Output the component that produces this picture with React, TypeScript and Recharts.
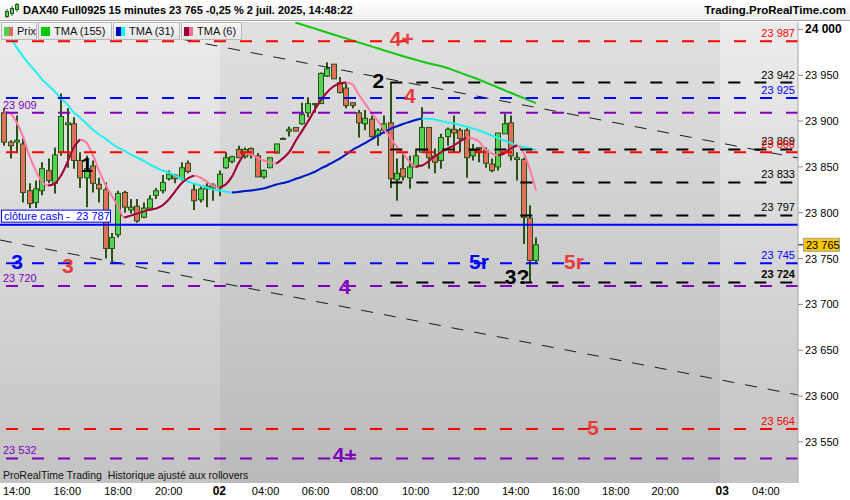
import React from 'react';
import { ComposedChart, Bar, Line, XAxis, YAxis, CartesianGrid, ReferenceLine, ReferenceDot } from 'recharts';

const FONT = '"Liberation Sans", Arial, sans-serif';
const W = 850;
const H = 500;

// 15 minute bars, from 13:30 (bar 0) to 14:45 on 2 juil. (bar 84)
const OPEN = [
  23909, 23877, 23877, 23875, 23824, 23811, 23824, 23846, 23832, 23866,
  23896, 23897, 23857, 23838, 23851, 23831, 23825, 23761, 23776, 23822,
  23803, 23807, 23795, 23805, 23819, 23824, 23837, 23841, 23837, 23854,
  23825, 23814, 23826, 23827, 23827, 23849, 23856, 23869, 23861, 23870,
  23862, 23839, 23849, 23865, 23880, 23889, 23893, 23897, 23909, 23918,
  23919, 23949, 23962, 23942, 23936, 23920, 23909, 23897, 23902, 23884,
  23890, 23898, 23836, 23848, 23838, 23850, 23866, 23893, 23862, 23857,
  23883, 23891, 23890, 23890, 23862, 23871, 23868, 23853, 23850, 23886,
  23898, 23858, 23858, 23794, 23748,
];
const HIGH = [
  23914, 23879, 23906, 23881, 23832, 23835, 23855, 23859, 23871, 23930,
  23914, 23904, 23866, 23862, 23857, 23838, 23833, 23778, 23824, 23824,
  23815, 23815, 23811, 23819, 23827, 23841, 23846, 23842, 23855, 23857,
  23832, 23830, 23832, 23832, 23846, 23866, 23862, 23873, 23871, 23871,
  23865, 23847, 23860, 23875, 23882, 23894, 23893, 23920, 23926, 23919,
  23953, 23964, 23962, 23948, 23942, 23920, 23912, 23912, 23906, 23892,
  23906, 23942, 23859, 23865, 23862, 23870, 23915, 23893, 23870, 23886,
  23893, 23906, 23892, 23892, 23875, 23871, 23871, 23859, 23887, 23908,
  23906, 23866, 23860, 23808, 23773,
];
const LOW = [
  23873, 23859, 23866, 23811, 23805, 23805, 23819, 23832, 23821, 23862,
  23849, 23848, 23827, 23806, 23822, 23811, 23750, 23746, 23773, 23800,
  23799, 23789, 23794, 23802, 23815, 23821, 23835, 23832, 23835, 23843,
  23803, 23811, 23806, 23813, 23818, 23848, 23854, 23860, 23859, 23859,
  23839, 23837, 23849, 23865, 23880, 23883, 23889, 23896, 23904, 23909,
  23919, 23948, 23946, 23930, 23914, 23914, 23882, 23890, 23882, 23873,
  23886, 23827, 23813, 23835, 23826, 23849, 23866, 23848, 23843, 23848,
  23873, 23865, 23866, 23838, 23857, 23855, 23849, 23844, 23846, 23886,
  23857, 23835, 23766, 23724, 23746,
];
const CLOSE = [
  23877, 23873, 23879, 23822, 23810, 23826, 23848, 23835, 23863, 23905,
  23898, 23857, 23838, 23848, 23832, 23826, 23761, 23773, 23821, 23806,
  23806, 23791, 23805, 23815, 23824, 23833, 23842, 23837, 23849, 23845,
  23813, 23826, 23829, 23830, 23842, 23860, 23861, 23860, 23869, 23863,
  23839, 23846, 23860, 23875, 23881, 23891, 23889, 23907, 23919, 23919,
  23952, 23957, 23946, 23931, 23917, 23917, 23898, 23903, 23883, 23890,
  23897, 23837, 23843, 23839, 23850, 23862, 23893, 23860, 23855, 23882,
  23891, 23887, 23881, 23860, 23868, 23866, 23854, 23846, 23887, 23897,
  23862, 23860, 23795, 23748, 23765,
];

const TMA155_START = 46;
const TMA155 = [
  24007.5, 24005.3, 24003.1, 24001.0, 23998.8, 23996.6, 23994.4, 23992.2, 23990.1, 23987.9,
  23985.7, 23983.6, 23981.4, 23979.3, 23977.1, 23975.0, 23972.8, 23970.7, 23968.7, 23966.8,
  23964.9, 23963.1, 23961.4, 23959.8, 23957.9, 23955.3, 23952.8, 23950.2, 23947.7, 23945.1,
  23942.3, 23939.4, 23936.6, 23933.7, 23930.8, 23928.0, 23925.2, 23922.3, 23919.5,
];
const TMA31 = [
  23998.9, 23991.3, 23980.3, 23970.5, 23961.8, 23954.1, 23945.4, 23938.8, 23932.3, 23924.6,
  23918.1, 23909.3, 23903.9, 23897.3, 23890.8, 23885.3, 23880.9, 23875.5, 23871.1, 23867.8,
  23863.5, 23860.2, 23856.9, 23852.6, 23849.3, 23846.0, 23843.8, 23840.5, 23837.3, 23834.0,
  23831.8, 23829.6, 23827.4, 23825.2, 23824.2, 23823.1, 23822.0, 23822.5, 23823.6, 23824.2,
  23825.2, 23826.3, 23828.5, 23830.7, 23832.3, 23834.0, 23836.7, 23838.9, 23841.6, 23844.4,
  23848.2, 23851.5, 23855.3, 23859.1, 23863.5, 23868.4, 23872.2, 23876.0, 23879.9, 23884.2,
  23888.0, 23891.3, 23894.1, 23896.8, 23899.0, 23901.2, 23902.8, 23902.5, 23901.7, 23900.1,
  23898.4, 23897.3, 23895.7, 23894.1, 23891.9, 23889.7, 23887.0, 23884.2, 23881.5, 23878.8,
  23876.0, 23873.3, 23871.7, 23870.0, 23868.4,
];
const TMA6 = [
  23910.4, 23908.3, 23898.4, 23883.1, 23862.4, 23846.0, 23834.0, 23829.6, 23831.8, 23840.5,
  23854.7, 23871.1, 23879.9, 23876.6, 23863.5, 23846.0, 23830.7, 23818.7, 23806.7, 23794.7,
  23796.8, 23799.0, 23801.2, 23803.4, 23804.5, 23807.8, 23814.3, 23823.1, 23831.8, 23837.3,
  23840.5, 23838.4, 23834.0, 23829.6, 23827.4, 23830.7, 23839.4, 23853.6, 23864.6, 23863.5,
  23860.2, 23856.9, 23854.7, 23853.6, 23859.1, 23865.7, 23877.7, 23888.6, 23899.5, 23911.5,
  23922.5, 23931.2, 23937.7, 23941.0, 23942.1, 23939.9, 23929.0, 23919.2, 23909.3, 23900.6,
  23890.8, 23882.0, 23872.2, 23864.6, 23855.8, 23850.4, 23851.5, 23855.8, 23861.3, 23865.7,
  23870.0, 23873.3, 23877.7, 23882.0, 23880.9, 23877.7, 23868.9, 23864.6, 23862.4, 23864.6,
  23870.0, 23873.3, 23865.7, 23848.2, 23824.2,
];

const LAST = 23765;
const CASH_CLOSE = 23787;

// axes
const X_DOMAIN = [-0.63, 125.37];
const Y_DOMAIN = [23505.2, 24008];
const Y_TICKS = [23550, 23600, 23650, 23700, 23750, 23800, 23850, 23900, 23950, 24000];
const X_TICKS = [2, 10, 18, 26, 34, 41.3, 49.2, 56.9, 65, 72.9, 80.8, 88.7, 96.6, 104.4, 113.4, 120.3];
const X_LABELS = ['14:00', '16:00', '18:00', '20:00', '02', '04:00', '06:00', '08:00', '10:00', '12:00', '14:00', '16:00', '18:00', '20:00', '03', '04:00'];
const DAY_BOUNDS = [34.1, 113.05];

const RED = '#ff0000';
const BLUE = '#0000ff';
const PURPLE = '#8000c0';
const BLACK = '#000000';
const NOTE_RED = '#e83c3c';

const LEVELS = [
  { price: 23987, color: RED, from: null, side: 'right' },
  { price: 23942, color: BLACK, from: 61, side: 'right' },
  { price: 23925, color: BLUE, from: null, side: 'right' },
  { price: 23909, color: PURPLE, from: null, side: 'left' },
  { price: 23869, color: BLACK, from: 61, side: 'right' },
  { price: 23866, color: RED, from: null, side: 'right' },
  { price: 23833, color: BLACK, from: 61, side: 'right' },
  { price: 23797, color: BLACK, from: 61, side: 'right' },
  { price: 23745, color: BLUE, from: null, side: 'right' },
  { price: 23724, color: BLACK, from: 61, side: 'right' },
  { price: 23720, color: PURPLE, from: null, side: 'left' },
  { price: 23564, color: RED, from: null, side: 'right' },
  { price: 23532, color: PURPLE, from: null, side: 'left' },
];

const TRENDS = [
  [{ x: 14, y: 24008 }, { x: 125.37, y: 23859.7 }],
  [{ x: -0.63, y: 23770.2 }, { x: 125.37, y: 23601.2 }],
];

const NOTES = [
  { text: '4+', x: 62.8, y: 23990.5, color: NOTE_RED },
  { text: '2', x: 59.1, y: 23944.7, color: BLACK },
  { text: '4', x: 64.1, y: 23928.3, color: NOTE_RED },
  { text: '1', x: 13.1, y: 23853.1, color: BLACK },
  { text: '3', x: 2.05, y: 23747.3, color: BLUE },
  { text: '3', x: 10.1, y: 23741.9, color: NOTE_RED },
  { text: '4', x: 53.8, y: 23719, color: PURPLE },
  { text: '5r', x: 75, y: 23746.3, color: BLUE },
  { text: '3?', x: 81, y: 23729.9, color: BLACK },
  { text: '5r', x: 90, y: 23747.3, color: NOTE_RED },
  { text: '5', x: 93, y: 23565.3, color: NOTE_RED },
  { text: '4+', x: 53.8, y: 23535.8, color: PURPLE },
];

const LEGEND = [
  { label: 'Prix', colors: ['#4fd24f', '#e06a5a'], width: 36 },
  { label: 'TMA (155)', colors: ['#00c800'], width: 74 },
  { label: 'TMA (31)', colors: ['#0000c8', '#00ffff'], width: 67 },
  { label: 'TMA (6)', colors: ['#990033', '#ff6f9a'], width: 61 },
];

const GREEN_BODY = '#52d452';
const RED_BODY = '#e2705c';
const WICK = '#2b5216';

// keep only the points of rising stretches, so they can be drawn in the second colour
const risingOnly = (vals: number[]) =>
  vals.map((v, k) => {
    const up = (k > 0 && v > vals[k - 1]) || (k < vals.length - 1 && vals[k + 1] > v);
    return up ? v : null;
  });

const t31Up = risingOnly(TMA31);
const t6Up = risingOnly(TMA6);

const rows = OPEN.map((o, i) => ({
  i,
  o,
  h: HIGH[i],
  l: LOW[i],
  c: CLOSE[i],
  range: [LOW[i], HIGH[i]],
  tma155: i >= TMA155_START ? TMA155[i - TMA155_START] : null,
  t31: TMA31[i],
  t31Up: t31Up[i],
  t6: TMA6[i],
  t6Up: t6Up[i],
}));

const fmt = (v: number) => `${Math.floor(v / 1000)} ${String(Math.round(v) % 1000).padStart(3, '0')}`;

const bandStart = (DAY_BOUNDS[0] - X_DOMAIN[0]) / (X_DOMAIN[1] - X_DOMAIN[0]);
const bandEnd = (DAY_BOUNDS[1] - X_DOMAIN[0]) / (X_DOMAIN[1] - X_DOMAIN[0]);

function Candle(props: any) {
  const { x, y, width, height, payload } = props;
  if (x == null || y == null || !payload) return null;
  const top = Math.min(y, y + height);
  const span = Math.abs(height);
  const { o, h, l, c } = payload;
  const k = h > l ? span / (h - l) : 0;
  const py = (v: number) => top + (h - v) * k;
  const cx = Math.round(x + width / 2);
  const bTop = py(Math.max(o, c));
  const bH = Math.max(1, py(Math.min(o, c)) - bTop);
  return (
    <g>
      <line x1={cx} x2={cx} y1={top} y2={top + span} stroke={WICK} strokeWidth={2} />
      <rect x={cx - 2.5} y={bTop} width={5} height={bH} fill={c >= o ? GREEN_BODY : RED_BODY} stroke={WICK} strokeWidth={1} />
    </g>
  );
}

const boxOf = (vb: any) => {
  const x = vb.x ?? Math.min(vb.x1, vb.x2);
  const y = vb.y ?? vb.y1;
  const width = vb.width ?? Math.abs(vb.x2 - vb.x1);
  return { x, y, width };
};

const levelLabel = (text: string, color: string, side: string, bold: boolean) => (props: any) => {
  const b = boxOf(props.viewBox || {});
  const right = side === 'right';
  return (
    <text
      x={right ? b.x + b.width - 3 : b.x + 3}
      y={b.y - 4}
      textAnchor={right ? 'end' : 'start'}
      fontSize={11}
      fontFamily={FONT}
      fontWeight={bold ? 'bold' : 'normal'}
      fill={color}
    >
      {text}
    </text>
  );
};

const CashLabel = (props: any) => {
  const b = boxOf(props.viewBox || {});
  return (
    <g>
      <rect x={b.x + 1.5} y={b.y - 14.5} width={109} height={12} fill="#fff" stroke={BLUE} strokeWidth={1} />
      <text x={b.x + 4} y={b.y - 4.5} fontSize={11} fontFamily={FONT} fill={BLUE} style={{ whiteSpace: 'pre' }}>
        {`clôture cash -  ${fmt(CASH_CLOSE)}`}
      </text>
    </g>
  );
};

const PriceTag = (props: any) => {
  const b = boxOf(props.viewBox || {});
  const x = b.x + b.width;
  return (
    <g>
      <line x1={x} x2={x + 5} y1={b.y} y2={b.y} stroke="#000" />
      <rect x={x + 5.5} y={b.y - 6.5} width={36} height={13} fill="#f8c800" stroke="#a0a0a0" />
      <text x={x + 8} y={b.y + 4} fontSize={11} fontFamily={FONT} fill="#000">
        {fmt(LAST)}
      </text>
    </g>
  );
};

const XTick = (props: any) => {
  const { x, y, payload } = props;
  const lab = X_LABELS[X_TICKS.indexOf(payload.value)] ?? '';
  const day = lab.length === 2;
  return (
    <text x={x} y={y} dy={4} textAnchor="middle" fontSize={day ? 12 : 11} fontWeight={day ? 'bold' : 'normal'} fontFamily={FONT} fill="#000">
      {lab}
    </text>
  );
};

const YTick = (props: any) => {
  const { x, y, payload } = props;
  const big = payload.value % 1000 === 0;
  return (
    <text x={x} y={y} dy={4} fontSize={big ? 12 : 11} fontWeight={big ? 'bold' : 'normal'} fontFamily={FONT} fill="#000">
      {fmt(payload.value)}
    </text>
  );
};

function TitleIcon() {
  return (
    <svg width={16} height={16} style={{ position: 'absolute', left: 4, top: 3 }}>
      <line x1={3} x2={3} y1={6} y2={15} stroke="#2b5216" />
      <rect x={1.5} y={8.5} width={3} height={5} fill="#52d452" stroke="#2b5216" />
      <line x1={8} x2={8} y1={3} y2={13} stroke="#2b5216" />
      <rect x={6.5} y={5.5} width={3} height={5} fill="#52d452" stroke="#2b5216" />
      <line x1={13} x2={13} y1={0} y2={9} stroke="#2b5216" />
      <rect x={11.5} y={1.5} width={3} height={5} fill="#52d452" stroke="#2b5216" />
    </svg>
  );
}

export default function App() {
  return (
    <div style={{ position: 'relative', width: W, height: H, background: '#fff', fontFamily: FONT, overflow: 'hidden' }}>
      <style>{'body{margin:0}'}</style>
      <ComposedChart width={W} height={H} data={rows} margin={{ top: 22, right: 0, bottom: 0, left: 0 }}>
        <defs>
          <linearGradient id="bgV" x1="0" y1="0" x2="0" y2="1">
            <stop offset="0" stopColor="#ececec" />
            <stop offset="1" stopColor="#c3c3c3" />
          </linearGradient>
          <linearGradient id="dayBand" x1="0" y1="0" x2="1" y2="0">
            <stop offset={bandStart} stopColor="#000" stopOpacity={0} />
            <stop offset={bandStart} stopColor="#000" stopOpacity={0.05} />
            <stop offset={bandEnd} stopColor="#000" stopOpacity={0.05} />
            <stop offset={bandEnd} stopColor="#000" stopOpacity={0} />
          </linearGradient>
        </defs>
        <CartesianGrid horizontal={false} vertical={false} fill="url(#bgV)" stroke="none" />
        <CartesianGrid horizontal={false} vertical={false} fill="url(#dayBand)" stroke="none" />
        <XAxis
          dataKey="i"
          type="number"
          domain={X_DOMAIN}
          allowDataOverflow
          ticks={X_TICKS}
          interval={0}
          height={17}
          tickLine={false}
          axisLine={false}
          tick={<XTick />}
        />
        <YAxis
          orientation="right"
          type="number"
          domain={Y_DOMAIN}
          allowDataOverflow
          ticks={Y_TICKS}
          interval={0}
          width={52}
          tickSize={5}
          tickLine={{ stroke: '#888' }}
          axisLine={{ stroke: '#a8a8a8' }}
          tick={<YTick />}
        />
        {TRENDS.map((seg, k) => (
          <ReferenceLine key={`tr${k}`} segment={seg} stroke="#1a1a1a" strokeWidth={1} strokeDasharray="12 11" ifOverflow="hidden" />
        ))}
        <Bar dataKey="range" barSize={5} shape={(p: any) => <Candle {...p} />} isAnimationActive={false} />
        <Line dataKey="tma155" type="monotone" stroke="#10c810" strokeWidth={2} dot={false} isAnimationActive={false} />
        <Line dataKey="t31" type="monotone" stroke="#20f0f0" strokeWidth={2} dot={false} isAnimationActive={false} />
        <Line dataKey="t31Up" type="monotone" stroke="#1010c0" strokeWidth={2} dot={false} isAnimationActive={false} />
        <Line dataKey="t6" type="monotone" stroke="#ff7aa2" strokeWidth={2} dot={false} isAnimationActive={false} />
        <Line dataKey="t6Up" type="monotone" stroke="#990033" strokeWidth={2} dot={false} isAnimationActive={false} />
        {LEVELS.map((lv) =>
          lv.from == null ? (
            <ReferenceLine
              key={`lv${lv.price}`}
              y={lv.price}
              stroke={lv.color}
              strokeWidth={2}
              strokeDasharray="12 14"
              label={levelLabel(fmt(lv.price), lv.color, lv.side, false)}
            />
          ) : (
            <ReferenceLine
              key={`lv${lv.price}`}
              segment={[{ x: lv.from, y: lv.price }, { x: X_DOMAIN[1], y: lv.price }]}
              stroke={lv.color}
              strokeWidth={2}
              strokeDasharray="12 14"
              label={levelLabel(fmt(lv.price), lv.color, lv.side, lv.price === 23724)}
            />
          )
        )}
        <ReferenceLine y={CASH_CLOSE} stroke={BLUE} strokeWidth={2} label={CashLabel} />
        <ReferenceLine y={LAST} stroke="none" label={PriceTag} />
        {NOTES.map((n, k) => (
          <ReferenceDot
            key={`n${k}`}
            x={n.x}
            y={n.y}
            r={0}
            shape={(p: any) => (
              <text x={p.cx} y={p.cy} textAnchor="middle" dominantBaseline="central" fontSize={21} fontWeight="bold" fontFamily={FONT} fill={n.color}>
                {n.text}
              </text>
            )}
          />
        ))}
      </ComposedChart>

      <div
        style={{
          position: 'absolute', left: 0, top: 0, width: W, height: 20,
          background: 'linear-gradient(#ffffff, #ededed)', borderBottom: '1px solid #a8a8a8',
        }}
      >
        <TitleIcon />
        <div style={{ position: 'absolute', left: 23, top: 4, fontSize: 11, fontWeight: 'bold', color: '#000', whiteSpace: 'nowrap' }}>
          DAX40 Full0925 15 minutes 23 765 -0,25 % 2 juil. 2025, 14:48:22
        </div>
        <div style={{ position: 'absolute', right: 4, top: 4, fontSize: 11.5, fontWeight: 'bold', color: '#000', whiteSpace: 'nowrap' }}>
          Trading.ProRealTime.com
        </div>
      </div>

      <div style={{ position: 'absolute', left: 1, top: 22, display: 'flex', gap: 1 }}>
        {LEGEND.map((it) => (
          <div
            key={it.label}
            style={{
              width: it.width - 2, height: 16, border: '1px solid #b8b8b8',
              background: 'linear-gradient(#f6f6f6, #e6e6e6)', display: 'flex', alignItems: 'center',
              fontSize: 11, color: '#111', whiteSpace: 'nowrap',
            }}
          >
            <div style={{ display: 'flex', marginLeft: 2, marginRight: 4 }}>
              {it.colors.map((c) => (
                <div key={c} style={{ width: it.colors.length > 1 ? 4.5 : 9, height: 9, background: c }} />
              ))}
            </div>
            {it.label}
          </div>
        ))}
      </div>

      <div style={{ position: 'absolute', left: 3, top: 469, fontSize: 10.5, color: '#111', whiteSpace: 'pre' }}>
        {'ProRealTime Trading  Historique ajusté aux rollovers'}
      </div>
    </div>
  );
}
